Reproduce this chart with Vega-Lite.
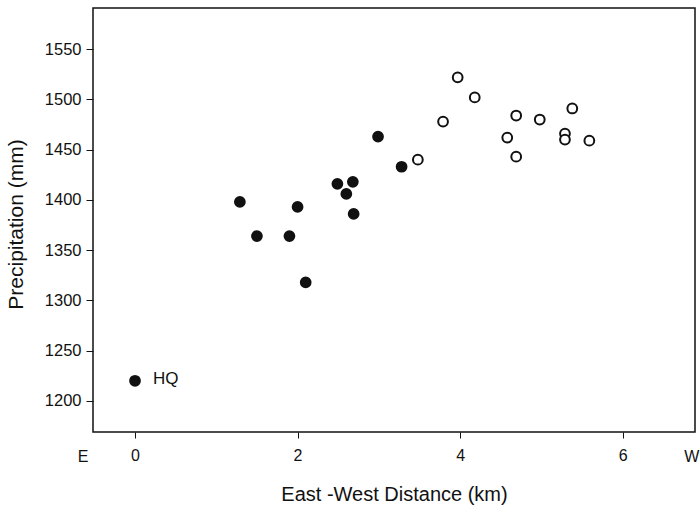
{
  "$schema": "https://vega.github.io/schema/vega-lite/v6.json",
  "width": 602,
  "height": 424,
  "autosize": {"type": "none"},
  "padding": {"left": 93, "top": 8, "right": 5, "bottom": 74},
  "background": "white",
  "config": {
    "view": {"stroke": "#111", "strokeWidth": 1.5},
    "font": "Liberation Sans",
    "axis": {"grid": false, "domain": false, "tickColor": "#111", "labelColor": "#111", "titleColor": "#111", "titleFontWeight": "normal", "labelFont": "Liberation Sans", "titleFont": "Liberation Sans"}
  },
  "datasets": {
    "stations": [
      {"name": "HQ", "km": 0.0, "mm": 1220, "group": "east"},
      {"name": "", "km": 1.29, "mm": 1398, "group": "east"},
      {"name": "", "km": 1.5, "mm": 1364, "group": "east"},
      {"name": "", "km": 1.9, "mm": 1364, "group": "east"},
      {"name": "", "km": 2.0, "mm": 1393, "group": "east"},
      {"name": "", "km": 2.1, "mm": 1318, "group": "east"},
      {"name": "", "km": 2.49, "mm": 1416, "group": "east"},
      {"name": "", "km": 2.6, "mm": 1406, "group": "east"},
      {"name": "", "km": 2.68, "mm": 1418, "group": "east"},
      {"name": "", "km": 2.69, "mm": 1386, "group": "east"},
      {"name": "", "km": 2.99, "mm": 1463, "group": "east"},
      {"name": "", "km": 3.28, "mm": 1433, "group": "east"},
      {"name": "", "km": 3.48, "mm": 1440, "group": "west"},
      {"name": "", "km": 3.79, "mm": 1478, "group": "west"},
      {"name": "", "km": 3.97, "mm": 1522, "group": "west"},
      {"name": "", "km": 4.18, "mm": 1502, "group": "west"},
      {"name": "", "km": 4.69, "mm": 1484, "group": "west"},
      {"name": "", "km": 4.58, "mm": 1462, "group": "west"},
      {"name": "", "km": 4.69, "mm": 1443, "group": "west"},
      {"name": "", "km": 4.98, "mm": 1480, "group": "west"},
      {"name": "", "km": 5.38, "mm": 1491, "group": "west"},
      {"name": "", "km": 5.29, "mm": 1466, "group": "west"},
      {"name": "", "km": 5.29, "mm": 1460, "group": "west"},
      {"name": "", "km": 5.59, "mm": 1459, "group": "west"}
    ],
    "ends": [
      {"label": "E", "km": -0.64, "mm": 1144},
      {"label": "W", "km": 6.85, "mm": 1144}
    ]
  },
  "layer": [
    {
      "data": {"name": "stations"},
      "mark": {"type": "point", "shape": "circle", "filled": true, "stroke": "#111", "strokeWidth": 2, "size": 95, "opacity": 1},
      "encoding": {
        "x": {
          "field": "km", "type": "quantitative",
          "scale": {"domain": [-0.517, 6.89], "nice": false, "zero": false},
          "axis": {"values": [0, 2, 4, 6], "format": "d", "tickSize": 6, "labelFontSize": 16, "labelPadding": 9, "title": "East -West Distance (km)", "titleFontSize": 20, "titleY": 68, "titleBaseline": "alphabetic"}
        },
        "y": {
          "field": "mm", "type": "quantitative",
          "scale": {"domain": [1169, 1591], "nice": false, "zero": false},
          "axis": {"values": [1200, 1250, 1300, 1350, 1400, 1450, 1500, 1550], "format": "d", "tickSize": 7, "labelFontSize": 16.5, "labelPadding": 5, "title": "Precipitation (mm)", "titleFontSize": 21, "titleX": -77, "titleY": 216, "titleAngle": -90, "titleBaseline": "middle", "titleAlign": "center"}
        },
        "fill": {"field": "group", "type": "nominal", "scale": {"domain": ["east", "west"], "range": ["#111", "white"]}, "legend": null}
      }
    },
    {
      "data": {"name": "stations"},
      "transform": [{"filter": "datum.name === 'HQ'"}],
      "mark": {"type": "text", "align": "left", "baseline": "middle", "dx": 18, "dy": -2, "fontSize": 17, "color": "#111"},
      "encoding": {
        "x": {"field": "km", "type": "quantitative"},
        "y": {"field": "mm", "type": "quantitative"},
        "text": {"field": "name"}
      }
    },
    {
      "data": {"name": "ends"},
      "mark": {"type": "text", "align": "center", "baseline": "middle", "fontSize": 16, "color": "#111"},
      "encoding": {
        "x": {"field": "km", "type": "quantitative"},
        "y": {"field": "mm", "type": "quantitative"},
        "text": {"field": "label"}
      }
    }
  ]
}
